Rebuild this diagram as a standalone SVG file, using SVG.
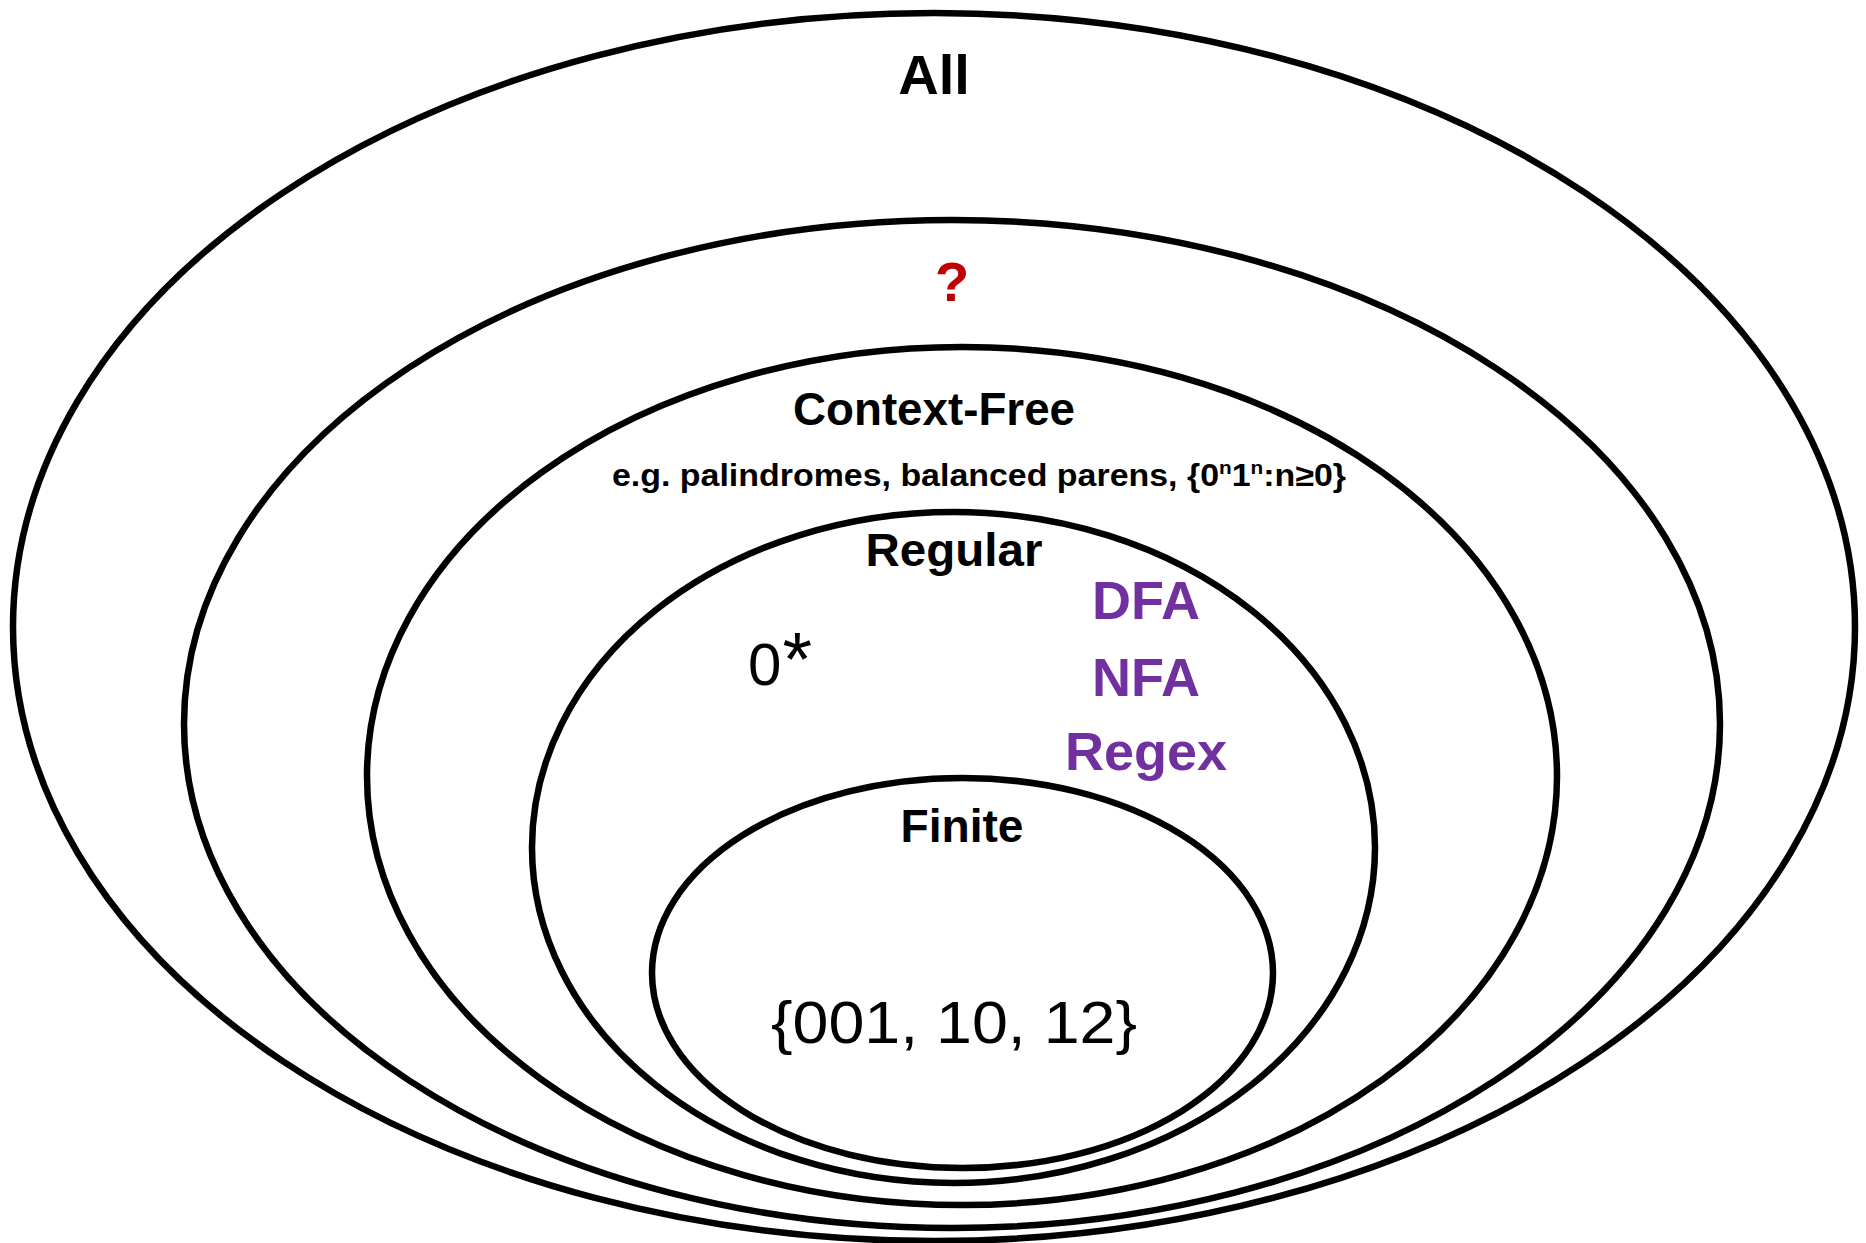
<svg xmlns="http://www.w3.org/2000/svg" width="1866" height="1243" viewBox="0 0 1866 1243">
<style>
.ring{fill:none;stroke:#000;stroke-width:6.5}
.h{font-family:"Liberation Sans",Arial,sans-serif;font-weight:bold;fill:#000;text-anchor:middle}
.r{font-family:"Liberation Sans",Arial,sans-serif;font-weight:normal;fill:#000}
.p{font-family:"Liberation Sans",Arial,sans-serif;font-weight:bold;fill:#7030A0;text-anchor:middle}
</style>
<rect width="1866" height="1243" fill="#fff"/>
<g id="all">
<ellipse class="ring" cx="934" cy="627" rx="921" ry="614"/>
<text class="h" x="934" y="94" font-size="56">All</text>
</g>
<g id="unknown">
<ellipse class="ring" cx="952" cy="724" rx="768" ry="504"/>
<text class="h" x="952" y="301" font-size="56" style="fill:#C00000">?</text>
</g>
<g id="context-free">
<ellipse class="ring" cx="962" cy="776" rx="595" ry="429"/>
<text class="h" x="934" y="425" font-size="46" textLength="282" lengthAdjust="spacingAndGlyphs">Context-Free</text>
<text class="h" x="979" y="486" font-size="31" textLength="734" lengthAdjust="spacingAndGlyphs">e.g. palindromes, balanced parens, {0<tspan font-size="19" dy="-12">n</tspan><tspan dy="12">1</tspan><tspan font-size="19" dy="-12">n</tspan><tspan dy="12">:n≥0}</tspan></text>
</g>
<g id="regular">
<ellipse class="ring" cx="953.5" cy="847.5" rx="421.5" ry="335.5"/>
<text class="h" x="954" y="566" font-size="46" textLength="177" lengthAdjust="spacingAndGlyphs">Regular</text>
<text class="r" x="748" y="685" font-size="60">0<tspan font-size="76" dx="1">*</tspan></text>
<text class="p" x="1146" y="619" font-size="54">DFA</text>
<text class="p" x="1146" y="696" font-size="54">NFA</text>
<text class="p" x="1146" y="770" font-size="54">Regex</text>
</g>
<g id="finite">
<ellipse class="ring" cx="962.5" cy="973" rx="310.5" ry="195"/>
<text class="h" x="962" y="842" font-size="46" textLength="123" lengthAdjust="spacingAndGlyphs">Finite</text>
<text class="r" x="954" y="1043" font-size="60" text-anchor="middle" textLength="366" lengthAdjust="spacingAndGlyphs">{001, 10, 12}</text>
</g>
<g id="connectors"/>
</svg>
